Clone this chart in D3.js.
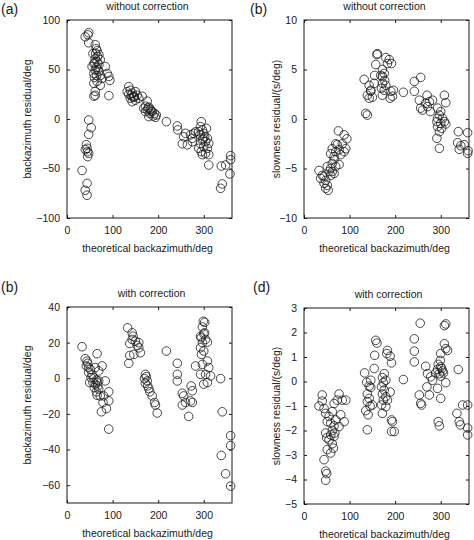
<!DOCTYPE html>
<html><head><meta charset="utf-8">
<script src="https://cdn.jsdelivr.net/npm/d3@7"></script>
<style>body{margin:0;background:#fff}</style>
</head><body>
<svg id="chart" width="474" height="540"></svg>
<script>
// ---------- data ----------
const xTicks = [0, 100, 200, 300];
const aTicks = [-100, -50, 0, 50, 100];
const bTicks = [-10, -5, 0, 5, 10];
const cTicks = [-60, -40, -20, 0, 20, 40];
const dTicks = [-5, -4, -3, -2, -1, 0, 1, 2, 3];

const panelLabels = ["(a)", "(b)", "(b)", "(d)"];
const panelTitles = ["without correction", "without correction", "with correction", "with correction"];
const yLabels = ["backazimuth residual/deg", "slowness residual/(s/deg)", "backazimuth residual/deg", "slowness residual/(s/deg)"];
const xLabel = "theoretical backazimuth/deg";

// (a) backazimuth residual without correction
const aBaz = [47.6,46,40,47.6,62,64,66,57,70,62,66,59,70,84,62,70,59,73,88,92,94,77,66,59,73,62,59,62,92,55,67,73,64,68,60,65,63,61,
  47.6,53,47.6,42.5,44,45,47.6,45.4,40.3,33,44,40,44,
  135.5,139,135.5,143,146.5,150,154,139,150,157.5,165,145,132,143,141,148,
  176,172,179.5,183,176,187,192,181.7,189,194,168.5,179.5,196,172,178,185,
  218,242,243,260,256,253,264,275,271,278,282,275,
  294.5,293,297,300,291.6,302,308,297,304,293,311,300,308,294.5,304,311,297,289,311,306,289,299,
  338.5,348,359,359,357.5,337,340.6];
const aRes = [87.2,85,83,77,75,71,69,66,65,61,58,56,55,53,49.5,48,46,44,46,43,39,41,38,36,34,28,23,24,23.6,53,63,60,52,50,42,44,66,57,
  -1,-8.8,-15.5,-26,-29.6,-33,-34.7,-38,-31,-52,-65,-72,-77,
  32.7,29,25,26,23,27.6,24,21,19,21,23,22,27.6,17.5,24,22,
  18,13,12,9.8,9,7.4,5.7,5.7,3,1.7,10.8,2.4,4,7.4,11,8,
  -2.7,-7,-11,-14.5,-18,-25,-26,-23,-16,-14.5,-13,-19.5,
  -2.7,-7.7,-11,-14.5,-16,-18,-19.5,-21,-23,-25,-24.6,-28,-29.6,-33,-34.7,-36,-36,-29.6,-46.5,-9.4,-12.8,-20,
  -47.5,-46.5,-37,-41,-55.5,-70,-65.6];

// (b) slowness residual without correction
const bBaz = [33,40,36.6,44,47.6,44,51,47.6,53,51,58.6,62,58.6,66,62,66,58.6,69.6,62,73,77,80.6,77,88,91.6,84,69.6,75.5,88,94,66,55,69.6,
  135.5,139,
  132,143,146.5,139,143,150,154,155,157.5,146.5,
  161,160,179.5,187,192,172,176,172,177,172,179.5,170,176,172,190.5,194,196,183,189,168.5,
  218,242,256,242,253,256,260,267,275,271,277,270,282,
  308,311,293,300,297,293,304,291.6,300,308,293,302,297,291.6,297,311,
  338.5,359,337,344,340.6,351.6,359,360];
const bSlow = [-5.2,-5.7,-6,-5.8,-6.2,-6.5,-6.7,-7,-7.2,-4.8,-5,-5.3,-5.7,-5.5,-4.5,-3.8,-3.5,-3.3,-3,-2.6,-3.1,-3.6,-4.6,-3.3,-3,-2.5,-2.5,-1.2,-1.6,-2,-4.1,-5.3,-4.8,
  0.57,0.4,
  4,3.4,2.9,2.4,2.1,2.2,3.6,4.4,5.5,2.8,
  6.6,6.5,6.2,6,5.6,5,4.6,4.3,3.9,3.6,3.4,3.1,2.9,2.4,2.8,2.3,2.9,5.6,2.1,4.4,
  2.7,3.8,4.2,2.8,1.9,1.1,0.9,1.6,1.75,1.25,0.75,2.4,1.9,
  2.4,1.65,1.1,0.75,0.4,0.07,0.07,-0.27,-0.44,-0.27,-0.77,-0.94,-1.28,-1.95,-2.96,-0.5,
  -1.28,-1.38,-2.4,-2.7,-3.06,-2.6,-3.47,-3.2];

// (c) backazimuth residual with correction
const cBaz = [33,40,44,45.4,42.5,47.6,51,47.6,55,66,62,69.6,77,58.6,64.5,66,62,67.4,60,69.6,64.5,66,73,80.6,84,91.6,91.6,79,86.4,75.5,91.6,49.8,57,69.6,52.7,
  133,143,145,137.7,150,154,157.5,161,146.5,137.7,135.5,157.5,143,
  172,174,170,176,172,177,179.5,187,192,194,198,181.7,
  218,242,242,242,253,256,253,260,267,272.5,275,271,275,282,
  299,302,297,300,294.5,304,297,308,293,300,295,308,297,311,293,304,315,308,300,293,302,
  337,340.6,359,359,338.5,348,359];
const cRes = [17.7,11,9.6,8.4,6.9,6,5,3.2,2.2,13.8,6,4.1,6.9,0.3,-1,-2.4,-3.3,-4.3,-5.2,-6.1,-7.6,-9.5,-9.9,-9.9,-1.5,-7.6,-12.7,-13.6,-17,-18.8,-28.5,-2.4,-2.4,-1.5,0.3,
  28.3,25.5,23.6,19.5,20.8,18.4,17.1,14.3,13.4,12.8,8.4,20,21.8,
  2.2,0.9,-0.2,-1.5,-2.8,-4.3,-5.8,-9.9,-13.6,-15,-19.5,-7.6,
  15.3,8.4,2.2,-1.5,-8.4,-9.9,-15,-13.6,-21.4,-4.3,-7,-12.7,-13.6,6.9,
  32,31.4,28.8,25,22.7,21.8,20,20.3,17.1,15.3,13.4,9.7,7.8,6,2.2,2.2,1.3,-2.4,-3.3,23.6,25.5,
  -0.2,-18.8,-32.2,-37.8,-43.3,-53.6,-60.5];

// (d) slowness residual with correction
const dBaz = [40,33,40,44,47.6,51,55,62,66,77,73,84,91.6,88,80.6,77,69.6,66,62,58.6,47.6,49.8,66,55,62,51,58.6,44,47.6,49.8,47.6,64.5,67.4,58.6,
  133,137.7,143,146.5,139,143,139,145,135.5,140.6,139,154,157.5,160,155,150,146.5,
  176,172,179.5,174,170,176,172,179.5,174,183,170,179.5,172,183,189,192,189,192,192,198,194,181.7,
  218,255,242,242,242,253,256,258,267,271,278,275,269.6,282,289,
  308,311,308,311,315,300,299,294.5,300,293,304,297,300,306,311,293,300,294.5,297,302,
  338.5,348,359,335.5,340.6,343,359,359];
const dSlow = [-0.55,-1,-0.8,-1.1,-1.3,-1.64,-1.43,-1.23,-0.9,-0.51,-0.76,-0.76,-0.76,-1.64,-1.36,-1.84,-1.57,-1.81,-2,-2.18,-2.1,-2.3,-2.24,-2.38,-2.54,-2.78,-2.92,-3.19,-3.66,-3.76,-4.03,-2.72,-2.1,-1.7,
  0.35,-0.03,-0.19,-0.24,-0.51,-0.69,-0.82,-1,-1.19,-1.36,-1.97,0.53,1.68,1.57,1.07,-0.96,0.05,
  0.32,0.16,0.05,-0.05,-0.22,-0.35,-0.51,-0.62,-0.76,-0.76,-0.96,-1.03,-1.3,1.27,1.03,0.76,-0.43,-1.57,-2.04,-2.04,-1.64,1.14,
  0.08,2.38,1.74,1.24,0.8,-0.55,-0.89,-0.96,0.62,0.32,0.19,-0.55,-0.22,0.05,0.35,
  2.28,2.35,1.54,1.34,1.27,1.14,0.86,0.7,0.6,0.49,0.43,0.32,0.22,0.35,-0.05,-0.28,-0.69,-1.64,-1.81,0.53,
  0.49,-0.96,-0.96,-1.3,-1.64,-1.77,-1.9,-2.18];

// ---------- drawing ----------
const svg = d3.select("#chart");
const FONT = "'Liberation Sans', Arial, Helvetica, sans-serif";
const ink = "#1a1a1a";

const panels = [
  {left:67, top:20, w:165, h:198, yDom:[-100,100], yT:aTicks, xs:aBaz, ys:aRes, labX:1, labY:14, titleDx:0},
  {left:304, top:20, w:165, h:198, yDom:[-10,10], yT:bTicks, xs:bBaz, ys:bSlow, labX:250, labY:14, titleDx:0},
  {left:67, top:307, w:165, h:196, yDom:[-70,40], yT:cTicks, xs:cBaz, ys:cRes, labX:1, labY:292, titleDx:4},
  {left:304, top:308, w:165, h:196, yDom:[-5,3], yT:dTicks, xs:dBaz, ys:dSlow, labX:253, labY:292, titleDx:4}
];

panels.forEach((p, i) => {
  const g = svg.append("g").attr("transform", `translate(${p.left},${p.top})`);
  const x = d3.scaleLinear().domain([0, 362]).range([0, p.w]);
  const y = d3.scaleLinear().domain(p.yDom).range([p.h, 0]);

  g.append("rect").attr("width", p.w).attr("height", p.h)
    .attr("fill", "none").attr("stroke", ink).attr("stroke-width", 1);

  const styleAxis = sel => {
    sel.select(".domain").remove();
    sel.selectAll("line").attr("stroke", ink);
    sel.selectAll("text").attr("font-family", FONT).attr("font-size", 10.5).attr("fill", ink);
  };

  g.append("g").attr("transform", `translate(0,${p.h})`)
    .call(d3.axisBottom(x).tickValues(xTicks).tickSizeInner(-3).tickSizeOuter(0).tickPadding(9))
    .call(styleAxis);
  g.append("g")
    .call(d3.axisTop(x).tickValues(xTicks).tickSizeInner(-3).tickSizeOuter(0).tickFormat(""))
    .call(styleAxis);
  g.append("g")
    .call(d3.axisLeft(y).tickValues(p.yT).tickSizeInner(-3).tickSizeOuter(0).tickPadding(7))
    .call(styleAxis);
  g.append("g").attr("transform", `translate(${p.w},0)`)
    .call(d3.axisRight(y).tickValues(p.yT).tickSizeInner(-3).tickSizeOuter(0).tickFormat(""))
    .call(styleAxis);

  const pts = p.xs.map((v, k) => [v, p.ys[k]]);
  g.append("g").selectAll("circle").data(pts).join("circle")
    .attr("cx", d => x(d[0])).attr("cy", d => y(d[1])).attr("r", 4.3)
    .attr("fill", "none").attr("stroke", ink).attr("stroke-width", 0.8);

  g.append("text").attr("x", p.w / 2 - 2 + p.titleDx).attr("y", -10)
    .attr("text-anchor", "middle").attr("font-family", FONT).attr("font-size", 10.5)
    .attr("fill", ink).text(panelTitles[i]);

  g.append("text").attr("x", p.w / 2 - 2).attr("y", p.h + 34)
    .attr("text-anchor", "middle").attr("font-family", FONT).attr("font-size", 10.5)
    .attr("fill", ink).text(xLabel);

  const yl = i % 2 === 0 ? 27 : 276;
  svg.append("text")
    .attr("transform", `translate(${yl + 4},${p.top + p.h / 2}) rotate(-90)`)
    .attr("text-anchor", "middle").attr("font-family", FONT).attr("font-size", 10.5)
    .attr("fill", ink).text(yLabels[i]);

  svg.append("text").attr("x", p.labX).attr("y", p.labY)
    .attr("font-family", FONT).attr("font-size", 14).attr("fill", ink).text(panelLabels[i]);
});
</script>
</body></html>
